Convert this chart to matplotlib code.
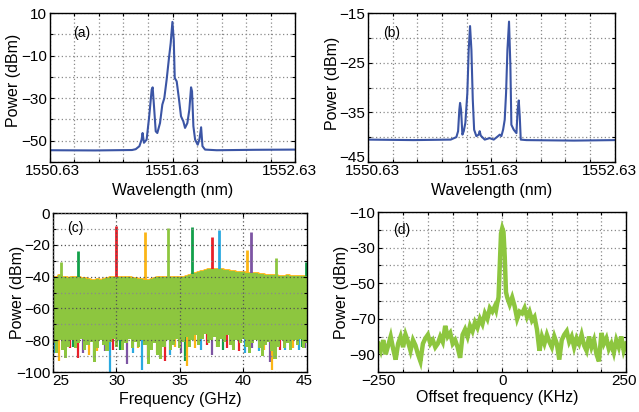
import numpy as np
import matplotlib
matplotlib.use("Agg")
import matplotlib.pyplot as plt
from matplotlib.transforms import ScaledTranslation

plt.rcParams['font.family'] = ['Liberation Sans', 'DejaVu Sans']

# ---------------- data ----------------
# (a) optical spectrum
wl_a = [1550.63, 1551.00, 1551.30, 1551.33, 1551.36, 1551.378, 1551.386, 1551.397, 1551.419,
        1551.44, 1551.46, 1551.468, 1551.479, 1551.493, 1551.506, 1551.528, 1551.547, 1551.563,
        1551.582, 1551.601, 1551.615, 1551.629, 1551.64, 1551.648, 1551.664, 1551.683, 1551.699,
        1551.718, 1551.732, 1551.751, 1551.767, 1551.781, 1551.789, 1551.80, 1551.814, 1551.835,
        1551.849, 1551.863, 1551.874, 1551.895, 1551.99, 1552.30, 1552.63]
pw_a = [-54.5, -54.6, -54.4, -54.0, -52.6, -49.5, -46.4, -51.0, -49.5,
        -38.5, -26.0, -24.9, -33.8, -45.6, -46.4, -41.7, -33.0, -30.0,
        -21.3, -11.1, -4.1, 5.9, -2.5, -20.5, -22.1, -30.7, -38.5,
        -40.9, -44.0, -41.7, -35.4, -24.9, -26.8, -43.2, -49.5, -51.9,
        -49.5, -43.7, -52.6, -54.2, -54.5, -54.3, -54.2]

# (b) optical spectrum
wl_b = [1550.63, 1551.00, 1551.30, 1551.346, 1551.36, 1551.37, 1551.376, 1551.384, 1551.395,
        1551.406, 1551.419, 1551.435, 1551.446, 1551.457, 1551.468, 1551.479, 1551.49, 1551.508,
        1551.527, 1551.535, 1551.544, 1551.576, 1551.616, 1551.649, 1551.684, 1551.698, 1551.711,
        1551.725, 1551.738, 1551.749, 1551.76, 1551.773, 1551.784, 1551.792, 1551.811, 1551.833,
        1551.843, 1551.852, 1551.86, 1551.868, 1551.914, 1552.30, 1552.63]
pw_b = [-40.5, -40.6, -40.5, -40.0, -38.8, -34.5, -33.1, -34.5, -39.5,
        -38.8, -37.1, -31.1, -22.4, -17.6, -22.4, -32.4, -38.5, -39.8,
        -39.5, -38.8, -39.7, -40.5, -40.2, -40.5, -39.8, -39.5, -39.8,
        -38.5, -36.5, -31.1, -22.4, -16.7, -25.7, -37.5, -38.5, -39.2,
        -34.5, -32.6, -35.8, -40.5, -40.6, -40.7, -40.6]

# (c) RF spectra: green band envelopes on a 0.25 GHz grid
freq_c = np.arange(25.0, 45.001, 0.25)
upper_c = [-40.5, -40, -39, -40, -40.5, -41, -40.5, -40, -40, -41, -41, -41.5, -42, -42, -41.5,
           -42, -41.5, -41, -40.5, -40.5, -40, -40, -40.5, -40, -40.5, -41, -41, -41.5, -41.5,
           -42, -42, -41.5, -41, -40.5, -40.5, -40, -40, -40.5, -40.5, -40.5, -40, -40, -39.5,
           -39, -38.5, -37.5, -37, -36.5, -36, -35.5, -35, -35, -35.5, -35.5, -36, -36, -36.5,
           -36.5, -37, -37, -37, -37.5, -38, -38, -38, -38.5, -38.5, -39, -39, -39, -39, -39.5,
           -39.5, -39.5, -39, -39.5, -39.5, -39.5, -39.5, -39.5, -39.5]
lower_c = [-82, -88, -80, -86, -91, -84, -80, -85, -82, -79, -86, -83, -81, -94, -85, -80, -83,
           -87, -81, -79, -84, -80, -86, -82, -79, -85, -81, -84, -80, -83, -95, -86, -82, -89,
           -92, -84, -80, -86, -83, -79, -85, -81, -78, -84, -80, -77, -83, -79, -76, -82, -80,
           -78, -84, -79, -81, -77, -83, -86, -80, -82, -79, -84, -88, -82, -80, -85, -90, -83,
           -81, -87, -92, -84, -80, -85, -82, -86, -80, -83, -79, -85, -82]
# colored traces poking out below the band
dip_f = [25.1, 25.5, 25.8, 26.3, 26.6, 27.0, 27.4, 27.8, 28.2, 28.5, 29.1, 29.5, 29.7, 30.3,
         30.8, 31.3, 31.7, 32.0, 32.5, 33.2, 33.8, 34.2, 34.6, 35.1, 35.4, 35.6, 36.2, 36.7,
         37.1, 37.5, 37.9, 38.4, 38.7, 39.2, 39.7, 40.1, 40.7, 41.2, 41.6, 42.1, 42.3, 42.9,
         43.3, 43.9, 44.4, 44.6, 44.9]
dip_bottom = [-88, -93, -86, -85, -84, -91, -88, -89, -91, -87, -87, -100, -86, -86,
              -95, -88, -85, -99, -92, -88, -93, -89, -84, -88, -93, -96, -85, -86,
              -83, -89, -84, -86, -85, -84, -87, -88, -85, -87, -86, -94, -99, -86,
              -86, -85, -86, -84, -85]
dip_color = ['blue', 'orange', 'purple', 'red', 'dgreen', 'red', 'purple', 'orange', 'dgreen',
             'orange', 'purple', 'blue', 'red', 'dgreen', 'purple', 'blue', 'orange', 'blue',
             'red', 'orange', 'red', 'blue', 'orange', 'purple', 'dgreen', 'orange', 'orange',
             'blue', 'red', 'purple', 'orange', 'dgreen', 'red', 'orange', 'red', 'blue',
             'purple', 'blue', 'orange', 'purple', 'orange', 'red', 'blue', 'orange', 'blue',
             'dgreen', 'purple']
# spectral lines
spike_f = [25.6, 26.95, 30.0, 32.25, 34.1, 35.95, 37.5, 38.1, 40.3, 40.6, 42.6, 44.95]
spike_top = [-31, -24, -8, -12, -9.5, -8.5, -15, -10.5, -23, -12, -28.5, -31]
spike_color = ['lgreen', 'dgreen', 'red', 'orange', 'lgreen', 'dgreen', 'red', 'blue',
               'orange', 'purple', 'lgreen', 'dgreen']

# (d) beat note
offset_d = ([float(v) for v in range(-250, -14, 5)] +
            [-12.5, -10, -7.5, -5, -2.5, 0, 2.5, 5, 7.5, 10, 12.5] +
            [float(v) for v in range(15, 251, 5)])
power_d = [-84, -88, -82, -90, -85, -80, -87, -93, -84, -80, -86, -79, -83, -88, -82, -85,
           -90, -94, -84, -81, -79, -84, -82, -86, -84, -80, -83, -74, -80, -78, -84, -82,
           -86, -92, -79, -76, -80, -74, -77, -72, -75, -70, -73, -67, -70, -64, -66, -63,
           -65, -61, -58, -40, -22, -19, -21, -35, -55, -58, -60,
           -62, -58, -63, -70, -66, -67, -64, -69, -66, -71, -69, -76, -88, -80, -84, -79,
           -83, -86, -80, -84, -93, -82, -79, -77, -83, -80, -86, -81, -84, -79, -85, -88,
           -80, -86, -82, -90, -94, -78, -84, -81, -87, -84, -89, -82, -86, -80, -88, -84]

# ---------------- styling ----------------
COL = {'dgreen': '#12a04a', 'red': '#e8202a', 'orange': '#fbb516', 'lgreen': '#8dc63f',
       'blue': '#2aa9e0', 'purple': '#7d55a3'}
LINE_BLUE = '#3b55a5'
GRID = dict(color='#8a8a8a', linestyle=(0, (1, 2)), linewidth=0.9)
FS = 11

fig = plt.figure(figsize=(6.39, 4.12), dpi=100)
axa = fig.add_axes([0.078, 0.607, 0.384, 0.361])
axb = fig.add_axes([0.576, 0.607, 0.386, 0.361])
axc = fig.add_axes([0.083, 0.097, 0.397, 0.386])
axd = fig.add_axes([0.592, 0.097, 0.388, 0.388])

def style(ax):
    for s in ax.spines.values():
        s.set_linewidth(1.0)
    ax.tick_params(which='both', direction='in', top=True, right=True, labelsize=FS,
                   length=3, width=0.8)
    ax.tick_params(axis='x', pad=1.5)
    ax.tick_params(axis='y', pad=2)
    ax.tick_params(which='minor', length=2)
    ax.grid(True, which='both', **GRID)

def labels(ax, xl, yl, xl_pos, yl_pos):
    ax.set_xlabel(xl, fontsize=FS + 0.5)
    ax.set_ylabel(yl, fontsize=FS + 0.5)
    ax.xaxis.set_label_coords(*xl_pos)
    ax.yaxis.set_label_coords(*yl_pos)
    ax.xaxis.label.set_va('center')
    ax.yaxis.label.set_va('center')

def shift(lab, dx, dy):
    lab.set_transform(lab.get_transform() + ScaledTranslation(dx / 100, dy / 100, fig.dpi_scale_trans))

def shift_edge_labels(ax, first_px, last_px):
    tl = ax.get_xticklabels()
    shift(tl[0], first_px, 0)
    shift(tl[-1], last_px, 0)

# (a)
axa.plot(wl_a, pw_a, color=LINE_BLUE, lw=1.5)
axa.set_xlim(1550.63, 1552.63)
axa.set_ylim(-60, 10)
axa.set_xticks([1550.63, 1551.63, 1552.63])
axa.set_xticklabels(['1550.63', '1551.63', '1552.63'])
axa.set_xticks([1550.63 + 0.2 * i for i in range(11)], minor=True)
axa.set_yticks([10, -10, -30, -50])
axa.set_yticks([0, -20, -40, -60], minor=True)
axa.set_axisbelow(True)
style(axa)
labels(axa, 'Wavelength (nm)', 'Power (dBm)', (0.5, -0.19), (-0.147, 0.55))
axa.text(0.094, 0.87, '(a)', transform=axa.transAxes, fontsize=FS - 1, va='center')

# (b)
axb.plot(wl_b, pw_b, color=LINE_BLUE, lw=1.5)
axb.set_xlim(1550.63, 1552.63)
axb.set_ylim(-45, -15)
axb.set_xticks([1550.63, 1551.63, 1552.63])
axb.set_xticklabels(['1550.63', '1551.63', '1552.63'])
axb.set_xticks([1550.63 + 0.2 * i for i in range(11)], minor=True)
axb.set_yticks([-15, -25, -35, -45])
axb.set_yticks([-20, -30, -40], minor=True)
axb.set_axisbelow(True)
style(axb)
labels(axb, 'Wavelength (nm)', 'Power (dBm)', (0.5, -0.19), (-0.146, 0.53))
axb.text(0.06, 0.87, '(b)', transform=axb.transAxes, fontsize=FS - 1, va='center')

# (c)
axc.vlines(dip_f, -72, dip_bottom, colors=[COL[c] for c in dip_color], lw=1.6, zorder=1.0)
axc.vlines(spike_f, -50, spike_top, colors=[COL[c] for c in spike_color], lw=2.0, zorder=1.1)
axc.step(freq_c, upper_c, where='mid', color=COL['orange'], lw=2.0, zorder=1.05)
axc.fill_between(freq_c, lower_c, upper_c, step='mid', color=COL['lgreen'], lw=0, zorder=1.5)
axc.set_xlim(25, 45)
axc.set_ylim(-100, 0)
axc.set_xticks([25, 30, 35, 40, 45])
axc.set_yticks([0, -20, -40, -60, -80, -100])
axc.set_yticks([-10, -30, -50, -70, -90], minor=True)
axc.set_axisbelow(False)
style(axc)
for gl in axc.get_xgridlines() + axc.get_ygridlines():
    gl.set_color('#555555')
    gl.set_zorder(2.5)
labels(axc, 'Frequency (GHz)', 'Power (dBm)', (0.5, -0.17), (-0.142, 0.5))
axc.text(0.055, 0.905, '(c)', transform=axc.transAxes, fontsize=FS - 1, va='center', zorder=5)

# (d)
axd.plot(offset_d, power_d, color=COL['lgreen'], lw=3.2, solid_joinstyle='miter')
axd.set_xlim(-250, 250)
axd.set_ylim(-100, -10)
axd.set_xticks([-250, 0, 250])
axd.set_xticks(list(range(-250, 251, 50)), minor=True)
axd.set_yticks([-10, -30, -50, -70, -90])
axd.set_yticks([-20, -40, -60, -80, -100], minor=True)
axd.set_axisbelow(True)
style(axd)
labels(axd, 'Offset frequency (KHz)', 'Power (dBm)', (0.48, -0.16), (-0.149, 0.5))
axd.text(0.06, 0.89, '(d)', transform=axd.transAxes, fontsize=FS - 1, va='center')

shift_edge_labels(axa, 2.5, -6)
shift_edge_labels(axb, 4.5, -5)
shift_edge_labels(axc, 8, -3)
shift_edge_labels(axd, 0, -2)
shift(axb.get_yticklabels()[-1], 0, 5)

fig.savefig('out.png', dpi=100)
